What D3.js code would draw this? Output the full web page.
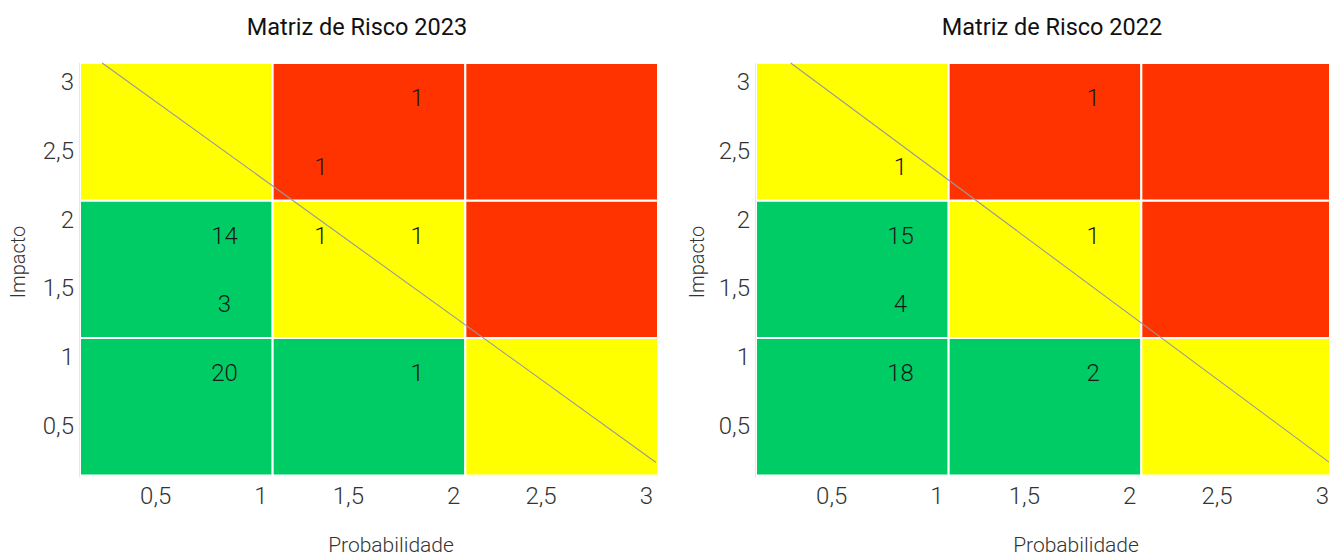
<!DOCTYPE html>
<html>
<head>
<meta charset="utf-8">
<script src="https://cdn.jsdelivr.net/npm/d3@7"></script>
<style>
  html, body { margin: 0; padding: 0; background: #fff; }
  svg { display: block; }
  text { font-family: Roboto, "Noto Sans", sans-serif; }
</style>
</head>
<body>
<svg id="chart" width="1329" height="557"></svg>
<script>
// ---- Data ----
const titles = ["Matriz de Risco 2023", "Matriz de Risco 2022"];
const xTickValues = [0.5, 1, 1.5, 2, 2.5, 3];
const yTickValues = [0.5, 1, 1.5, 2, 2.5, 3];
const xAxisTitle = "Probabilidade";
const yAxisTitle = "Impacto";

// risk level per cell: rows = impact band [0-1, 1-2, 2-3], cols = probability band [0-1, 1-2, 2-3]
const probBands = [0, 1, 2];
const impactBands = [0, 1, 2];
const riskLevels = [
  ["baixo", "baixo", "medio"],
  ["baixo", "medio", "alto"],
  ["medio", "alto", "alto"]
];
const riskColors = { baixo: "#00cc66", medio: "#ffff00", alto: "#ff3300" };

const probability2023 = [1.75, 1.25, 0.75, 1.25, 1.75, 0.75, 0.75, 1.75];
const impact2023      = [2.75, 2.25, 1.75, 1.75, 1.75, 1.25, 0.75, 0.75];
const count2023       = [1, 1, 14, 1, 1, 3, 20, 1];

const probability2022 = [1.75, 0.75, 0.75, 1.75, 0.75, 0.75, 1.75];
const impact2022      = [2.75, 2.25, 1.75, 1.75, 1.25, 0.75, 0.75];
const count2022       = [1, 1, 15, 1, 4, 18, 2];

// diagonal reference line (probability, impact)
const line2023X = [0.115, 2.99];
const line2023Y = [3, 0.095];
const line2022X = [0.18, 3];
const line2022Y = [3, 0.07];

const fmt = v => String(v).replace(".", ",");

const svg = d3.select("#chart");

function drawPanel(opts) {
  const g = svg.append("g");
  const x = d3.scaleLinear().domain([0, 3]).range([opts.left, opts.left + 578]);
  const y = d3.scaleLinear().domain([0, 3]).range([475.5, 63]);

  // cells
  const cells = [];
  impactBands.forEach((ib, r) => probBands.forEach((pb, c) => {
    cells.push({ p: pb, i: ib, level: riskLevels[r][c] });
  }));
  g.selectAll("rect.cell").data(cells).enter().append("rect")
    .attr("class", "cell")
    .attr("x", d => x(d.p))
    .attr("y", d => y(d.i + 1))
    .attr("width", d => x(d.p + 1) - x(d.p))
    .attr("height", d => y(d.i) - y(d.i + 1))
    .attr("fill", d => riskColors[d.level])
    .attr("stroke", "#ffffff")
    .attr("stroke-width", 2);

  // faint y axis line
  g.append("line")
    .attr("x1", x(0) - 0.5).attr("x2", x(0) - 0.5)
    .attr("y1", y(3)).attr("y2", y(0) + 1.5)
    .attr("stroke", "#e3e8f0").attr("stroke-width", 1);

  // diagonal
  const pts = opts.lineX.map((v, k) => [v, opts.lineY[k]]);
  g.append("path")
    .attr("d", d3.line().x(d => x(d[0])).y(d => y(d[1]))(pts))
    .attr("fill", "none")
    .attr("stroke", "#999")
    .attr("stroke-width", 1.1);

  // counts
  const pts2 = opts.counts.map((c, k) => ({ p: opts.probs[k], i: opts.imps[k], c }));
  g.selectAll("text.count").data(pts2).enter().append("text")
    .attr("class", "count")
    .attr("x", d => x(d.p))
    .attr("y", d => y(d.i))
    .attr("dy", "0.36em")
    .attr("text-anchor", "middle")
    .attr("font-size", 24)
    .attr("font-weight", 300)
    .attr("fill", "#1a1a1a")
    .text(d => d.c);

  // x tick labels
  g.selectAll("text.xt").data(xTickValues).enter().append("text")
    .attr("class", "xt")
    .attr("x", d => x(d) - 5)
    .attr("y", 503.5)
    .attr("text-anchor", "end")
    .attr("font-size", 24)
    .attr("font-weight", 300)
    .attr("fill", "#333")
    .text(fmt);

  // y tick labels
  g.selectAll("text.yt").data(yTickValues).enter().append("text")
    .attr("class", "yt")
    .attr("x", x(0) - 6)
    .attr("y", d => y(d) + 27)
    .attr("text-anchor", "end")
    .attr("font-size", 24)
    .attr("font-weight", 300)
    .attr("fill", "#333")
    .text(fmt);

  // title
  g.append("text")
    .attr("x", opts.titleX).attr("y", 35)
    .attr("text-anchor", "middle")
    .attr("font-size", 23.5)
    .attr("fill", "#111")
    .text(opts.title);

  // axis titles
  g.append("text")
    .attr("x", opts.xTitleX).attr("y", 552)
    .attr("text-anchor", "middle")
    .attr("font-size", 21)
    .attr("font-weight", 300)
    .attr("fill", "#333")
    .text(xAxisTitle);

  g.append("text")
    .attr("transform", `translate(${opts.yTitleX},262) rotate(-90)`)
    .attr("text-anchor", "middle")
    .attr("font-size", 20)
    .attr("font-weight", 300)
    .attr("fill", "#333")
    .text(yAxisTitle);
}

drawPanel({
  left: 80, title: titles[0], titleX: 357, xTitleX: 391, yTitleX: 25,
  probs: probability2023, imps: impact2023, counts: count2023,
  lineX: line2023X, lineY: line2023Y
});
drawPanel({
  left: 756, title: titles[1], titleX: 1052, xTitleX: 1076, yTitleX: 704,
  probs: probability2022, imps: impact2022, counts: count2022,
  lineX: line2022X, lineY: line2022Y
});
</script>
</body>
</html>
